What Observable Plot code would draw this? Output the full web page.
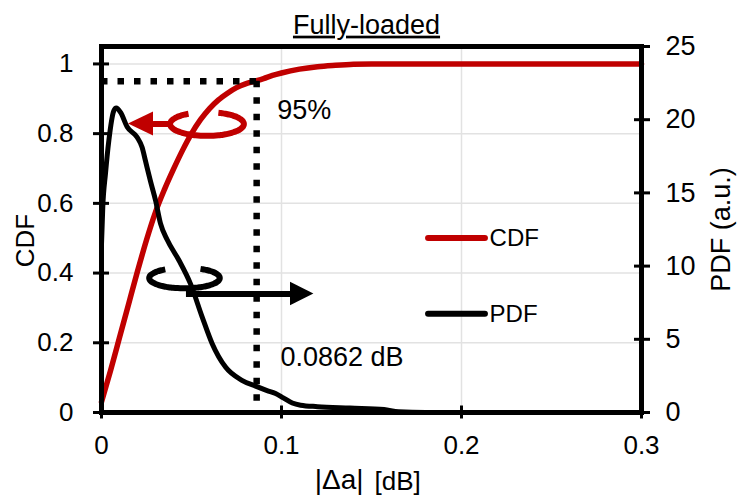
<!DOCTYPE html>
<html><head><meta charset="utf-8">
<script src="https://cdn.jsdelivr.net/npm/d3@7"></script>
<script src="https://cdn.jsdelivr.net/npm/@observablehq/plot@0.6"></script>
<style>
body{margin:0;background:#fff;}
svg text{font-family:"Liberation Sans",Arial,sans-serif;}
</style></head><body><div id="chart"></div>
<script>
// ---- data ----
const titleText = "Fully-loaded";
const xTicks = [0, 0.1, 0.2, 0.3];
const cdfTicks = [0, 0.2, 0.4, 0.6, 0.8, 1];
const pdfTicks = [0, 5, 10, 15, 20, 25];
const seriesNames = ["CDF", "PDF"];
const cdfX = [0, 0.005, 0.01, 0.015, 0.02, 0.025, 0.03, 0.035, 0.04, 0.045, 0.05, 0.055, 0.06, 0.065, 0.07, 0.075, 0.08, 0.0862, 0.09, 0.095, 0.1, 0.11, 0.12, 0.13, 0.14, 0.15, 0.3];
const cdfY = [0.03, 0.12, 0.215, 0.31, 0.405, 0.495, 0.575, 0.64, 0.698, 0.752, 0.8, 0.84, 0.872, 0.897, 0.916, 0.932, 0.943, 0.952, 0.958, 0.967, 0.974, 0.985, 0.992, 0.996, 0.999, 1.0, 1.0];
const pdfX = [0, 0.0007, 0.0022, 0.0041, 0.0068, 0.0082, 0.0106, 0.0143, 0.0198, 0.0226, 0.0244, 0.0272, 0.030, 0.0328, 0.0365, 0.043, 0.0494, 0.056, 0.0615, 0.0689, 0.078, 0.0856, 0.092, 0.0967, 0.101, 0.106, 0.1106, 0.12, 0.138, 0.157, 0.165, 0.18, 0.3];
const pdfY = [11.5, 14.0, 16.3, 18.6, 20.6, 20.8, 20.5, 19.5, 18.8, 18.1, 17.2, 15.8, 14.5, 12.9, 11.8, 10.4, 8.8, 6.5, 4.7, 3.1, 2.2, 1.8, 1.5, 1.3, 1.0, 0.65, 0.5, 0.4, 0.3, 0.2, 0.05, 0, 0];
const level95 = 0.95, x95 = 0.0862;
const note95 = "95%", noteX = "0.0862 dB";
const cdfMax = 1.05, pdfMax = 25;

// ---- derived ----
const k = cdfMax / pdfMax;
const cdfData = cdfX.map((x, i) => ({x, y: cdfY[i]}));
const pdfData = pdfX.map((x, i) => ({x, y: pdfY[i] * k}));
const red = "#c00000";
const fmt = d => String(+d.toFixed(3));

// decorations (data units)
const rotMarks = [
  {cx: 0.0586, cy: 0.8276, rx: 0.0205, ry: 0.034, a0: 120, a1: 432, sy: 0.8276, s0: 0.0383, base: 0.0289, tip: 0.0150, half: 0.0344, color: red},
  {cx: 0.0461, cy: 0.3858, rx: 0.0196, ry: 0.0295, a0: 123, a1: 423, sy: 0.340, s0: 0.0472, base: 0.1050, tip: 0.1180, half: 0.0336, color: "black"}
];
function arc(m) {
  const pts = [];
  for (let a = m.a0; a <= m.a1; a += 4) {
    const t = a * Math.PI / 180;
    pts.push({x: m.cx + m.rx * Math.cos(t), y: m.cy + m.ry * Math.sin(t)});
  }
  return pts;
}
const decoMarks = rotMarks.flatMap(m => [
  Plot.line(arc(m), {x: "x", y: "y", stroke: m.color, strokeWidth: 6, curve: "catmull-rom", strokeLinecap: "butt"}),
  Plot.ruleY([m.sy], {x1: m.s0, x2: m.base, stroke: m.color, strokeWidth: 6}),
  Plot.areaY([{x: m.tip, y1: m.sy, y2: m.sy}, {x: m.base, y1: m.sy - m.half, y2: m.sy + m.half}], {x: "x", y1: "y1", y2: "y2", fill: m.color})
]);

const legend = [
  {name: seriesNames[0], y: 0.5006, color: red},
  {name: seriesNames[1], y: 0.283, color: "black"}
];
const legX1 = 0.1817, legX2 = 0.2133, legTX = 0.2156;

const plot = Plot.plot({
  width: 737, height: 504,
  marginLeft: 101, marginRight: 96, marginTop: 46, marginBottom: 92,
  style: {fontFamily: "'Liberation Sans', Arial, sans-serif", fontSize: "24px", color: "black", background: "white", overflow: "visible"},
  x: {domain: [0, 0.3]},
  y: {domain: [0, cdfMax]},
  marks: [
    Plot.gridX([0.1, 0.2], {stroke: "#e2e2e2", strokeOpacity: 1, strokeWidth: 1.5}),
    Plot.gridY(cdfTicks.slice(1), {stroke: "#e2e2e2", strokeOpacity: 1, strokeWidth: 1.5}),
    Plot.line(cdfData, {x: "x", y: "y", stroke: red, strokeWidth: 5.5, curve: "monotone-x"}),
    Plot.line(pdfData, {x: "x", y: "y", stroke: "black", strokeWidth: 5, curve: "monotone-x"}),
    Plot.ruleY([level95], {x1: 0, x2: x95, stroke: "black", strokeWidth: 6.5, strokeDasharray: "6.5,10"}),
    Plot.ruleX([x95], {y1: level95, y2: 0, stroke: "black", strokeWidth: 6.5, strokeDasharray: "6.5,10"}),
    ...decoMarks,
    Plot.frame({stroke: "black", strokeWidth: 5}),
    // axes
    Plot.axisX(xTicks, {tickSize: 6.5, tickPadding: 17, strokeWidth: 3, fontSize: 26, tickFormat: fmt, label: null}),
    Plot.axisX(xTicks, {tickSize: 6.5, dy: -6.5, strokeWidth: 3, tickFormat: () => "", label: null}),
    Plot.axisY(cdfTicks, {anchor: "left", tickSize: 8, tickPadding: 20, strokeWidth: 3, fontSize: 26, tickFormat: fmt, label: null}),
    Plot.axisY(cdfTicks, {anchor: "left", tickSize: 8, dx: 8, strokeWidth: 3, tickFormat: () => "", label: null}),
    Plot.axisY(pdfTicks.map(p => p * k), {anchor: "right", tickSize: 8, tickPadding: 16, strokeWidth: 3, fontSize: 27, tickFormat: d => String(Math.round(d / k)), label: null}),
    Plot.axisY(pdfTicks.map(p => p * k), {anchor: "right", tickSize: 8, dx: -8, strokeWidth: 3, tickFormat: () => "", label: null}),
    // axis titles
    Plot.text([titleText], {frameAnchor: "top", dx: -5, dy: -32, fontSize: 27}),
    Plot.text(["CDF"], {frameAnchor: "left", textAnchor: "middle", rotate: -90, dx: -76, dy: 11, fontSize: 26}),
    Plot.text(["PDF (a.u.)"], {frameAnchor: "right", textAnchor: "middle", rotate: -90, dx: 80, dy: 0, fontSize: 27}),
    Plot.text(["|Δa|"], {frameAnchor: "bottom", textAnchor: "end", dx: -8, dy: 76.5, fontSize: 28, fontFamily: "'Liberation Serif', 'Times New Roman', serif"}),
    Plot.text(["[dB]"], {frameAnchor: "bottom", textAnchor: "start", dx: 3, dy: 77, fontSize: 26}),
    // annotations
    Plot.text([note95], {x: 0.0976, y: 0.866, textAnchor: "start", fontSize: 27}),
    Plot.text([noteX], {x: 0.0994, y: 0.1596, textAnchor: "start", fontSize: 27}),
    // legend
    Plot.ruleY(legend, {y: "y", x1: legX1, x2: legX2, stroke: "color", strokeWidth: 6, strokeLinecap: "round"}),
    Plot.text(legend, {x: legTX, y: "y", text: "name", textAnchor: "start", fontSize: 24})
  ]
});
d3.select(plot).selectAll("text").filter(function() { return this.textContent === titleText; }).style("text-decoration", "underline");
document.getElementById("chart").appendChild(plot);
</script></body></html>
